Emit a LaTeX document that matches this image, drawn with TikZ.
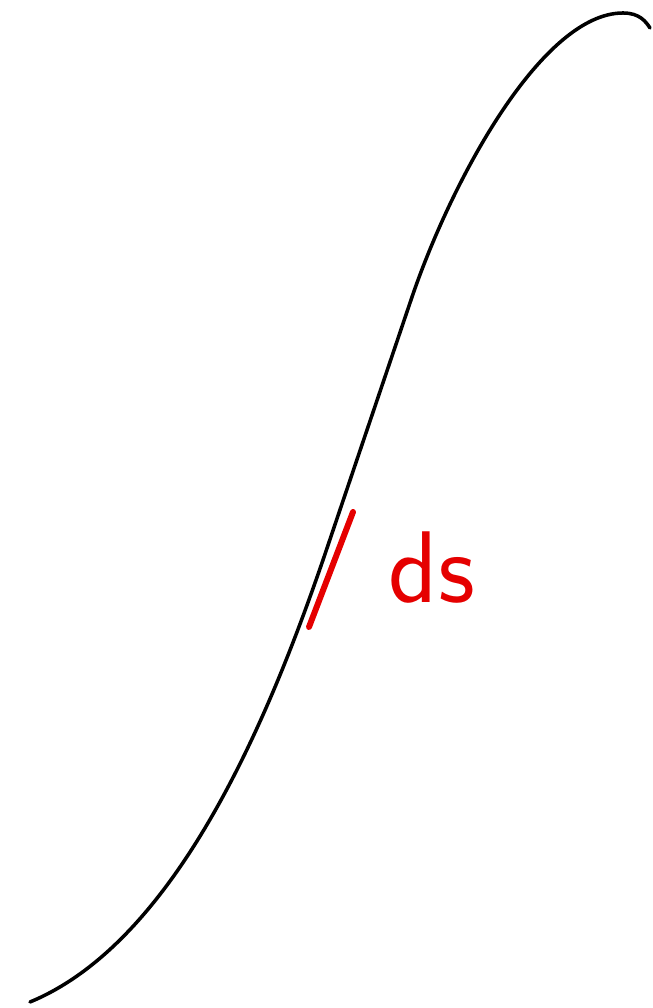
\documentclass[tikz,border=0pt]{standalone}
\begin{document}
\begin{tikzpicture}[
  curve/.style={line width=1pt, black, line cap=round},
  element/.style={line width=1.7pt, red!90!black, line cap=round},
  label/.style={text=red!90!black, font=\sffamily\fontsize{29}{32}\selectfont, inner sep=0pt}
]
\useasboundingbox (0,0) rectangle (6.53,10.08);
\coordinate (start) at (0.30,0.06);
\coordinate (lowturn) at (3.23,4.48);
\coordinate (highturn) at (4.12,7.11);
\coordinate (peak) at (6.23,9.95);
\coordinate (tail) at (6.50,9.80);
\draw[curve] (start) .. controls (1.8,0.68) and (2.72,3.0) .. (lowturn)
  -- (highturn) .. controls (4.53,8.31) and (5.43,9.95) .. (peak)
  .. controls (6.40,9.95) and (6.46,9.86) .. (tail);
\coordinate (dsA) at (3.53,4.96);
\coordinate (dsB) at (3.09,3.81);
\draw[element] (dsA) -- (dsB);
\node[label, anchor=base west] (dslabel) at (3.88,4.05) {ds};
\end{tikzpicture}
\end{document}
